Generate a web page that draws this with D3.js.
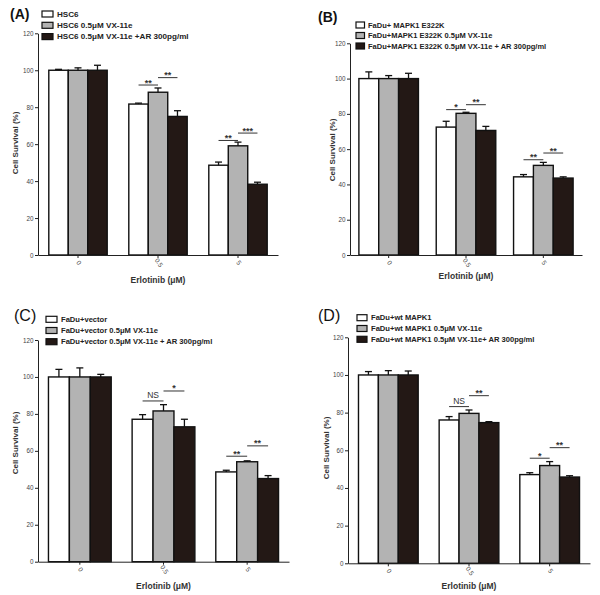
<!DOCTYPE html>
<html><head><meta charset="utf-8">
<script src="https://cdn.jsdelivr.net/npm/d3@7"></script>
<style>body{margin:0;background:#fff}svg{display:block}text{font-family:"Liberation Sans",Arial,sans-serif}</style>
</head><body>
<svg id="c" width="600" height="595"></svg>
<script>
// ---- data ----
const doses = ["0", "0.5", "5"];
const yTicks = [0, 20, 40, 60, 80, 100, 120];
const fills = ["#ffffff", "#b3b3b3", "#231815"];

const seriesA = ["HSC6", "HSC6 0.5\u03bcM VX-11e", "HSC6 0.5\u03bcM VX-11e +AR 300pg/ml"];
const valuesA = [[100, 100, 100], [81.7, 88.1, 75.0], [48.6, 59.1, 38.3]];
const errorsA = [[0.5, 1.3, 2.7], [0.5, 2.3, 3.1], [1.7, 2.0, 1.1]];
const sigA = [[1, 0, 1, 92, "**"], [1, 1, 2, 96, "**"], [2, 0, 1, 62, "**"], [2, 1, 2, 66, "***"]];

const seriesB = ["FaDu+ MAPK1 E322K", "FaDu+MAPK1 E322K 0.5\u03bcM VX-11e", "FaDu+MAPK1 E322K 0.5\u03bcM VX-11e + AR 300pg/ml"];
const valuesB = [[100, 100, 100], [72.5, 80.3, 70.6], [44.3, 50.8, 43.6]];
const errorsB = [[3.8, 1.7, 3.0], [3.3, 0.6, 2.3], [1.3, 1.7, 0.7]];
const sigB = [[1, 0, 1, 82.4, "*"], [1, 1, 2, 85.2, "**"], [2, 0, 1, 54, "**"], [2, 1, 2, 57.8, "**"]];

const seriesC = ["FaDu+vector", "FaDu+vector 0.5\u03bcM VX-11e", "FaDu+vector 0.5\u03bcM VX-11e + AR 300pg/ml"];
const valuesC = [[100, 100, 100], [77.1, 81.6, 73.0], [48.6, 54.1, 45.0]];
const errorsC = [[4.1, 4.9, 1.4], [2.5, 3.4, 4.1], [0.9, 0.5, 1.6]];
const sigC = [[1, 0, 1, 87, "NS"], [1, 1, 2, 92.4, "*"], [2, 0, 1, 57.1, "**"], [2, 1, 2, 62.7, "**"]];

const seriesD = ["FaDu+wt MAPK1", "FaDu+wt MAPK1 0.5\u03bcM VX-11e", "FaDu+wt MAPK1 0.5\u03bcM VX-11e+ AR 300pg/ml"];
const valuesD = [[100, 100, 100], [76.1, 79.6, 74.7], [47.1, 51.9, 45.8]];
const errorsD = [[1.8, 2.3, 2.1], [1.8, 1.8, 0.5], [1.0, 2.1, 0.7]];
const sigD = [[1, 0, 1, 83.2, "NS"], [1, 1, 2, 89, "**"], [2, 0, 1, 55.8, "*"], [2, 1, 2, 61.4, "**"]];

// ---- layout ----
const panels = [
  {tag: "(A)", tagX: 10, tagY: 19, tagBold: true, tagSize: 14, series: seriesA, values: valuesA, errors: errorsA, sig: sigA,
   xL: 38, xR: 278, yTop: 33.3, yBot: 255, pad: 0.27, legX: 42, legW: 11, legY: 14, legDy: 11.3, legTx: 57, legFs: 8.1,
   ylabX: 15, ylabY: 143, xlabY: 283},
  {tag: "(B)", tagX: 318, tagY: 22, tagBold: true, tagSize: 14, series: seriesB, values: valuesB, errors: errorsB, sig: sigB,
   xL: 350, xR: 582, yTop: 43.3, yBot: 255, pad: 0.23, legX: 356, legW: 8.5, legY: 25, legDy: 10.5, legTx: 368, legFs: 7.5,
   ylabX: 332, ylabY: 150, xlabY: 279},
  {tag: "(C)", tagX: 14, tagY: 321, tagBold: false, tagSize: 16, series: seriesC, values: valuesC, errors: errorsC, sig: sigC,
   xL: 38, xR: 289, yTop: 340, yBot: 561.7, pad: 0.25, legX: 46, legW: 11, legY: 319.3, legDy: 11.2, legTx: 61, legFs: 7.6,
   ylabX: 15, ylabY: 443, xlabY: 589},
  {tag: "(D)", tagX: 318, tagY: 321, tagBold: false, tagSize: 16, series: seriesD, values: valuesD, errors: errorsD, sig: sigD,
   xL: 348, xR: 590, yTop: 337.3, yBot: 563.3, pad: 0.26, legX: 357, legW: 10, legY: 317.7, legDy: 10.8, legTx: 371, legFs: 7.6,
   ylabX: 326, ylabY: 448, xlabY: 589}
];

const svg = d3.select("#c");
const ink = "#222";

panels.forEach(p => {
  const g = svg.append("g");
  const x0 = d3.scaleBand().domain(doses).range([p.xL, p.xR]).paddingInner(p.pad).paddingOuter(p.pad / 2);
  const x1 = d3.scaleBand().domain(d3.range(p.series.length)).range([0, x0.bandwidth()]).padding(0);
  const y = d3.scaleLinear().domain([0, 120]).range([p.yBot, p.yTop]);

  // bars
  doses.forEach((d, gi) => {
    p.values[gi].forEach((v, si) => {
      const bx = x0(d) + x1(si);
      g.append("rect").attr("x", bx).attr("y", y(v)).attr("width", x1.bandwidth()).attr("height", y(0) - y(v))
        .attr("fill", fills[si]).attr("stroke", "#111").attr("stroke-width", 1.4);
      const cx = bx + x1.bandwidth() / 2, et = y(v + p.errors[gi][si]);
      g.append("line").attr("x1", cx).attr("x2", cx).attr("y1", y(v)).attr("y2", et).attr("stroke", "#111").attr("stroke-width", 1.3);
      g.append("line").attr("x1", cx - 3.5).attr("x2", cx + 3.5).attr("y1", et).attr("y2", et).attr("stroke", "#111").attr("stroke-width", 1.3);
    });
  });

  // significance lines
  p.sig.forEach(([gi, a, b, v, lab]) => {
    const d = doses[gi];
    const xa = x0(d) + x1(a) + x1.bandwidth() / 2, xb = x0(d) + x1(b) + x1.bandwidth() / 2;
    g.append("line").attr("x1", xa).attr("x2", xb).attr("y1", y(v)).attr("y2", y(v)).attr("stroke", "#333").attr("stroke-width", 1);
    g.append("text").attr("x", (xa + xb) / 2).attr("y", lab === "NS" ? y(v) - 2.5 : y(v) + 0.5).attr("text-anchor", "middle")
      .attr("font-size", lab === "NS" ? 8.5 : 9).attr("font-weight", lab === "NS" ? "normal" : "bold").attr("fill", "#333").text(lab);
  });

  // axes
  const ya = g.append("g").attr("transform", `translate(${p.xL},0)`)
    .call(d3.axisLeft(y).tickValues(yTicks).tickSize(3).tickSizeOuter(0).tickPadding(1.5));
  ya.selectAll("text").attr("font-size", 6.3).attr("fill", "#444").attr("font-family", "Liberation Sans, Arial, sans-serif");
  ya.selectAll("line,path").attr("stroke", ink);
  const xa = g.append("g").attr("transform", `translate(0,${p.yBot})`)
    .call(d3.axisBottom(x0).tickSize(3).tickSizeOuter(0));
  xa.select("path").attr("stroke", ink);
  xa.selectAll("line").attr("stroke", ink);
  xa.selectAll("text").attr("font-size", 6.5).attr("fill", "#444").attr("font-family", "Liberation Sans, Arial, sans-serif")
    .attr("text-anchor", "middle").attr("dy", 0).attr("y", 0)
    .attr("transform", "translate(-1,9) rotate(55)");

  // axis titles
  g.append("text").attr("transform", `translate(${p.ylabX},${p.ylabY}) rotate(-90)`).attr("text-anchor", "middle")
    .attr("dy", "0.35em").attr("font-size", 8).attr("font-weight", "bold").attr("fill", "#333").text("Cell Survival (%)");
  g.append("text").attr("x", (p.xL + p.xR) / 2).attr("y", p.xlabY).attr("text-anchor", "middle")
    .attr("font-size", 8.5).attr("font-weight", "bold").attr("fill", "#333").text("Erlotinib (\u03bcM)");

  // panel tag
  g.append("text").attr("x", p.tagX).attr("y", p.tagY).attr("font-size", p.tagSize)
    .attr("font-weight", p.tagBold ? "bold" : "normal").attr("fill", "#111").text(p.tag);

  // legend
  p.series.forEach((s, si) => {
    const ly = p.legY + si * p.legDy;
    g.append("rect").attr("x", p.legX).attr("y", ly - 3).attr("width", p.legW).attr("height", 6)
      .attr("fill", fills[si]).attr("stroke", "#111").attr("stroke-width", 1.2);
    g.append("text").attr("x", p.legTx).attr("y", ly).attr("dy", "0.35em").attr("font-size", p.legFs)
      .attr("font-weight", "bold").attr("fill", "#222").text(s);
  });
});
</script>
</body></html>
